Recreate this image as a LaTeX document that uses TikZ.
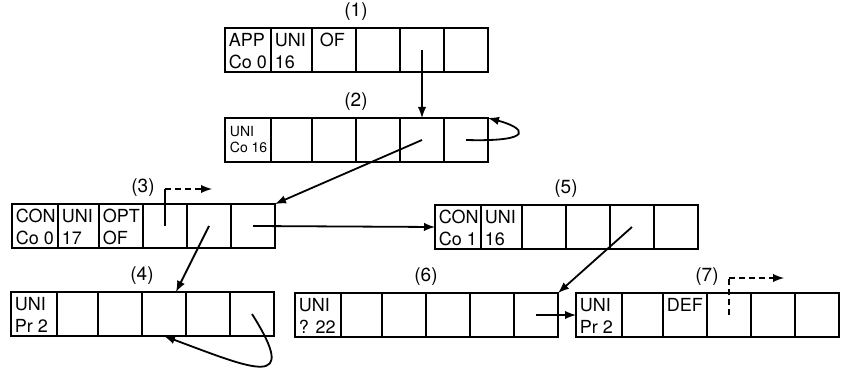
\documentclass[tikz,border=0pt]{standalone}
\usepackage{fontspec}
\setmainfont{TeX Gyre Heros}
\usetikzlibrary{positioning}

\begin{document}
\begin{tikzpicture}[x=0.5pt, y=-0.5pt, >=latex, line width=0.9pt,
    cell/.style={draw, rectangle, inner sep=0pt, outer sep=0pt, minimum height=22pt},
    entry/.style={anchor=north west, align=left, inner xsep=1.5pt, inner ysep=2.2pt, font=\fontsize{9}{11}\selectfont},
    tag/.style={font=\fontsize{9.5}{10}\selectfont, inner sep=1pt},
    ptr/.style={dash pattern=on 3pt off 2pt}]
    \useasboundingbox (0,0) rectangle (850,378);

    % Records, six cells each
    \foreach \r/\lx/\my in {1/225/50, 2/225/140, 3/12/226, 4/11/314, 5/435/227, 6/295/315, 7/576/315} {
        \foreach \i/\w/\cx in {1/46/23, 2/41/66.5, 3/44/109, 4/44/153, 5/44/197, 6/44/241}
            \node[cell, minimum width=\w*0.5pt] (r\r-\i) at (\lx+\cx,\my) {};
    }

    % Record numbers
    \node[tag, above=2.5pt of r1-3.north east] {(1)};
    \node[tag, above=2.5pt of r2-3.north east] {(2)};
    \node[tag, above=2.5pt of r3-3.north east] {(3)};
    \node[tag, above=2.5pt of r4-3.north east] {(4)};
    \node[tag, above=2.5pt of r5-3.north east] {(5)};
    \node[tag, above=2.5pt of r6-3.north east] {(6)};
    \node[tag, above=2.5pt of r7-3.north east] {(7)};

    % Entries
    \node[entry] at (r1-1.north west) {APP\\Co 0};
    \node[entry] at (r1-2.north west) {UNI\\16};
    \node[entry, xshift=2pt] at (r1-3.north west) {OF};
    \node[entry, font=\fontsize{7}{7.7}\selectfont, inner xsep=2pt, inner ysep=3.8pt] at (r2-1.north west) {UNI\\Co 16};
    \node[entry] at (r3-1.north west) {CON\\Co 0};
    \node[entry] at (r3-2.north west) {UNI\\17};
    \node[entry] at (r3-3.north west) {OPT\\OF};
    \node[entry] at (r4-1.north west) {UNI\\Pr 2};
    \node[entry] at (r5-1.north west) {CON\\Co 1};
    \node[entry] at (r5-2.north west) {UNI\\16};
    \node[entry] at (r6-1.north west) {UNI\\? 22};
    \node[entry] at (r7-1.north west) {UNI\\Pr 2};
    \node[entry] at (r7-3.north west) {DEF};

    % Pointers
    \draw[->] (r1-5.center) -- (r2-5.north);
    \draw[->] (r2-6.center) .. controls +(70,2) and +(38,10) .. (r2-6.north east);
    \draw[->] (r2-5.center) -- (r3-6.north east);
    \draw[->] (r3-5.center) -- ([xshift=6pt]r4-4.north);
    \draw[->] (r3-6.center) -- (r5-1.west);
    \draw[->] (r4-6.center) .. controls +(48,76) and +(91,34) .. (r4-4.south);
    \draw[->] (r5-5.center) -- (r6-6.north east);
    \draw[->] (r6-6.center) -- (r7-1.west);

    % Open pointers
    \coordinate (k3) at ([yshift=7.5pt]r3-4.north);
    \coordinate (e3) at ([xshift=23.5pt]k3);
    \draw (r3-4.center) -- (k3);
    \draw[ptr, ->] (k3) -- (e3);
    \coordinate (k7) at ([yshift=7.5pt]r7-4.north);
    \coordinate (e7) at ([xshift=27.5pt]k7);
    \draw[ptr] (r7-4.center) -- (k7);
    \draw[ptr, ->] (k7) -- (e7);
\end{tikzpicture}
\end{document}
